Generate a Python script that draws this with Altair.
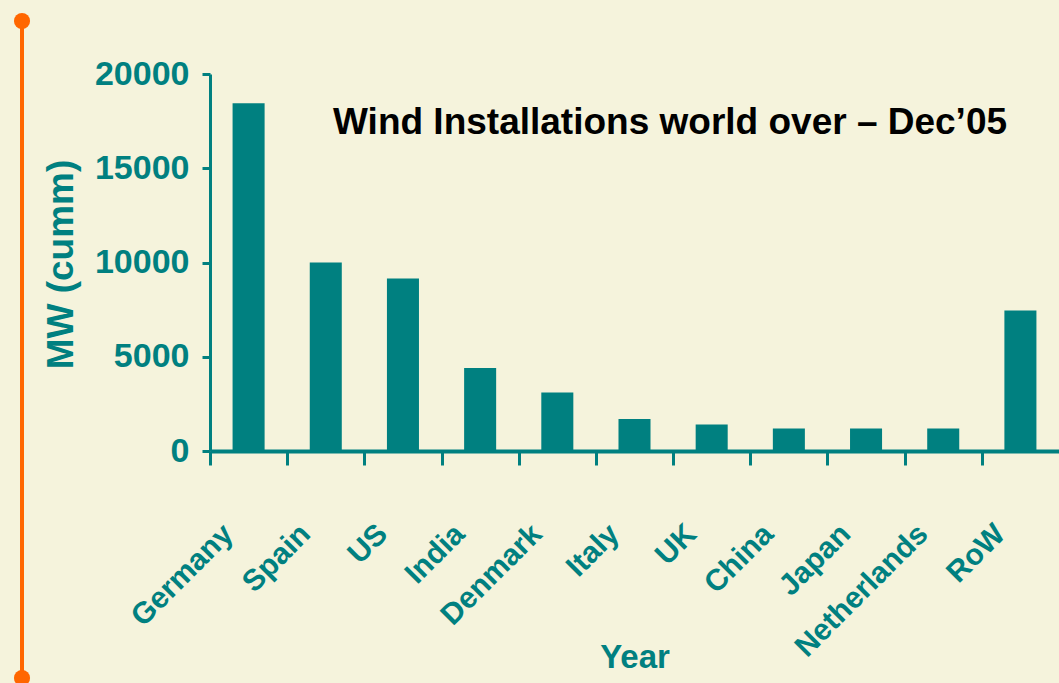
import altair as alt
import pandas as pd

# ---- data ----
countries = ["Germany", "Spain", "US", "India", "Denmark", "Italy", "UK",
             "China", "Japan", "Netherlands", "RoW"]
mw_cumm = [18450, 10000, 9150, 4400, 3100, 1700, 1400, 1200, 1200, 1200, 7450]
y_ticks = [0, 5000, 10000, 15000, 20000]
chart_title = "Wind Installations world over \u2013 Dec\u201905"
x_title = "Year"
y_title = "MW (cumm)"

TEAL = "#008080"
ORANGE = "#FF6600"
BG = "#F5F3DC"
REG = "'Liberation Sans', Arial, sans-serif"

df = pd.DataFrame({"country": countries, "mw": mw_cumm})

W, H = 849, 377
STEP = W / len(countries)

bars = alt.Chart(df).mark_bar(color=TEAL).encode(
    x=alt.X("country:N", sort=countries,
            scale=alt.Scale(paddingInner=0.585, paddingOuter=0.2925),
            axis=alt.Axis(title=x_title, labelAngle=-45, labelAlign="right",
                          labelBaseline="middle", labelFont=REG,
                          labelFontSize=30, labelFontWeight="bold",
                          labelPadding=64, labelOffset=18, labelLimit=0,
                          tickOffset=-STEP / 2, tickSize=14, tickWidth=3,
                          domainWidth=4, labelColor=TEAL, tickColor=TEAL,
                          domainColor=TEAL, titleColor=TEAL, titleFont=REG,
                          titleFontSize=33, titleFontWeight="bold",
                          titleY=216, titleBaseline="alphabetic")),
    y=alt.Y("mw:Q", scale=alt.Scale(domain=[0, 20000], nice=False),
            axis=alt.Axis(title=y_title, values=y_ticks, grid=False,
                          format="d",
                          labelFont=REG, labelFontSize=34,
                          labelFontWeight="bold", labelPadding=13,
                          tickSize=8, tickWidth=3, domainWidth=3,
                          labelColor=TEAL, tickColor=TEAL, domainColor=TEAL,
                          titleColor=TEAL, titleFont=REG, titleFontSize=37,
                          titleFontWeight="bold", titleX=-138, titleY=190,
                          titleAngle=270, titleAlign="center",
                          titleBaseline="alphabetic")),
)

title_df = pd.DataFrame({"t": [chart_title]})
title_txt = alt.Chart(title_df).mark_text(
    align="left", baseline="alphabetic", font=REG, fontSize=37,
    fontWeight="bold", color="#000000"
).encode(x=alt.value(123), y=alt.value(60), text="t:N")

one = pd.DataFrame({"k": [0]})
orange_line = alt.Chart(one).mark_rule(color=ORANGE, strokeWidth=4).encode(
    x=alt.value(-188), y=alt.value(-53), y2=alt.value(604))
dot_top = alt.Chart(one).mark_circle(color=ORANGE, opacity=1, size=260).encode(
    x=alt.value(-188), y=alt.value(-53))
dot_bot = alt.Chart(one).mark_circle(color=ORANGE, opacity=1, size=260).encode(
    x=alt.value(-188), y=alt.value(604))

chart = alt.layer(bars, title_txt, orange_line, dot_top, dot_bot).properties(
    width=W, height=H,
    padding={"left": 210, "top": 74, "right": 0, "bottom": 232},
    autosize=alt.AutoSizeParams(type="none"),
    background=BG,
).configure_view(stroke=None)

chart.save("out.html", embed_options={"renderer": "svg", "actions": False})
